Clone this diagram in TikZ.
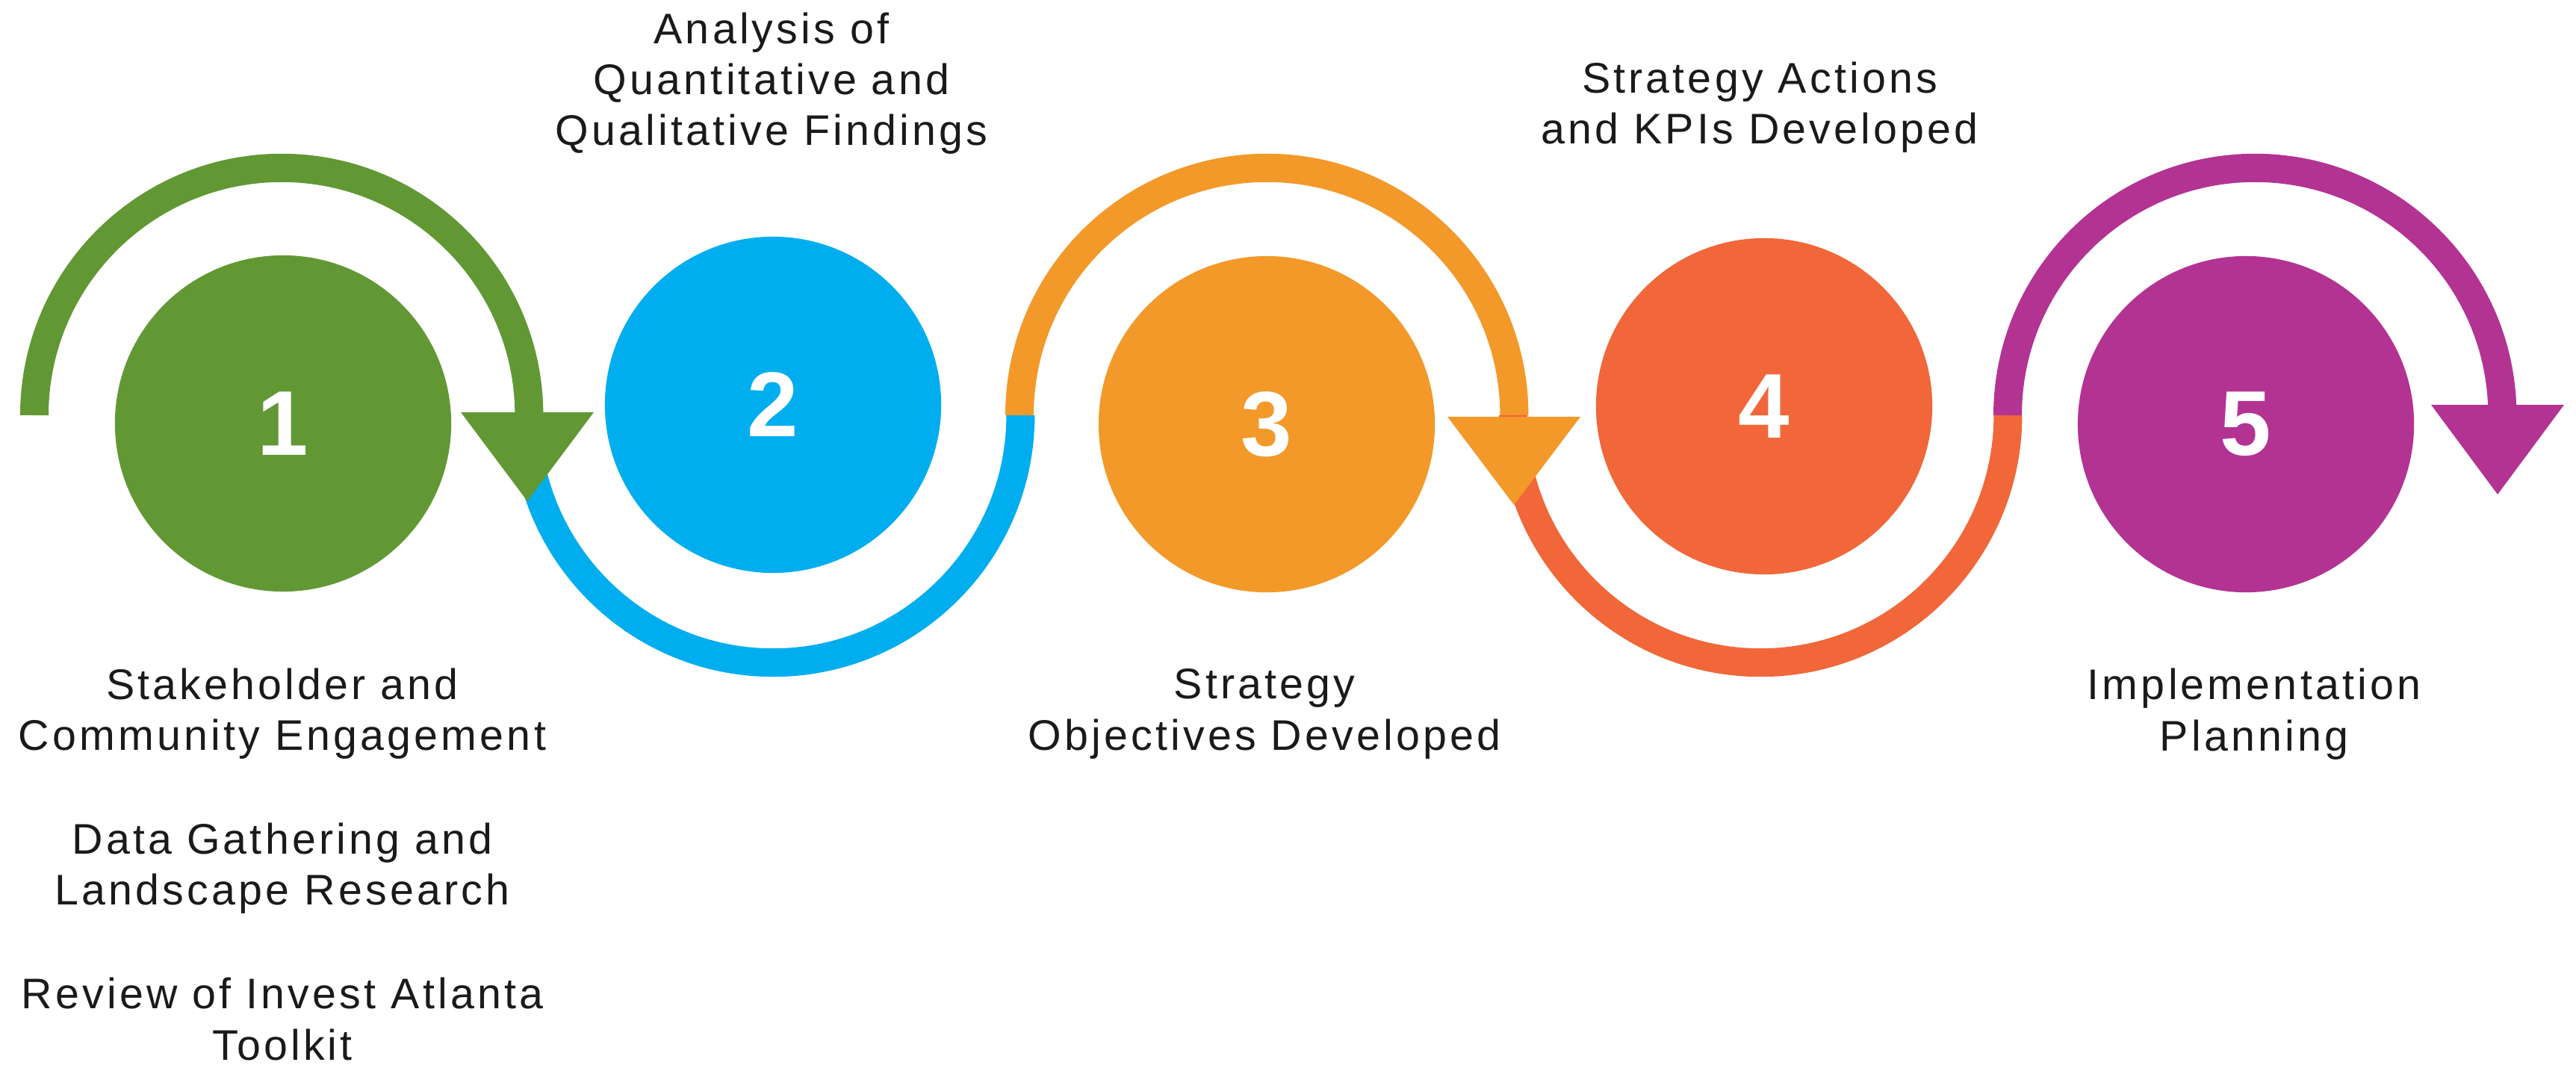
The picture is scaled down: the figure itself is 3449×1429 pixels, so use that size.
\documentclass[tikz,border=0pt]{standalone}
\usepackage{fontspec}
\setmainfont{Liberation Sans}
\newfontfamily\labelfont{Liberation Sans}[LetterSpace=7.3]
\definecolor{cgreen}{HTML}{629834}
\definecolor{cblue}{HTML}{00AEEF}
\definecolor{corange}{HTML}{F3992A}
\definecolor{cred}{HTML}{F1673A}
\definecolor{cpurple}{HTML}{B33393}
\definecolor{ctext}{HTML}{1A1A1A}
\begin{document}
\begin{tikzpicture}[x=0.01cm,y=0.01cm,
  stepcircle/.style={circle, fill=#1, minimum size=4.5cm, inner sep=0pt, text=white,
    font=\bfseries\fontsize{35pt}{40pt}\selectfont},
  ribbon/.style={line width=0.38cm, draw=#1},
  tip/.style={fill=#1, draw=none},
  label/.style={align=center, anchor=base, inner sep=0pt, text=ctext,
    font=\labelfont\fontsize{16.3pt}{19.35pt}\selectfont}]
\fill[white] (0,0) rectangle (3449,1429);
\useasboundingbox (0,0) rectangle (3449,1429);
% ribbons
\draw[ribbon=cgreen]  (46,873)   arc[start angle=180, end angle=0,   radius=3.31cm];
\draw[ribbon=cblue]   (704,873)  arc[start angle=180, end angle=360, radius=3.31cm];
\draw[ribbon=corange] (1365,873) arc[start angle=180, end angle=0,   radius=3.31cm];
\draw[ribbon=cred]    (2026,873) arc[start angle=180, end angle=360, radius=3.31cm];
\draw[ribbon=cpurple] (2688,873) arc[start angle=180, end angle=0,   radius=3.31cm];
% arrow tips
\coordinate (t1a) at (617,877); \coordinate (t1b) at (795,877); \coordinate (t1c) at (706,758);
\coordinate (t3a) at (1938,871); \coordinate (t3b) at (2116,871); \coordinate (t3c) at (2027,753);
\coordinate (t5a) at (3255,887); \coordinate (t5b) at (3433,887); \coordinate (t5c) at (3344,767);
\fill[tip=cgreen]   (t1a) -- (t1b) -- (t1c) -- cycle;
\fill[tip=corange]  (t3a) -- (t3b) -- (t3c) -- cycle;
\fill[tip=cpurple]  (t5a) -- (t5b) -- (t5c) -- cycle;
% circles
\node[stepcircle=cgreen]  (c1) at (379,862)  {1};
\node[stepcircle=cblue]   (c2) at (1035,887) {2};
\node[stepcircle=corange] (c3) at (1696,861) {3};
\node[stepcircle=cred]    (c4) at (2362,885) {4};
\node[stepcircle=cpurple] (c5) at (3007,861) {5};
% labels (base anchor = baseline of the last line)
\node[label] (l1) at (378,10) {Stakeholder and\\Community Engagement\\[0.71cm]Data Gathering and\\Landscape Research\\[0.71cm]Review of Invest Atlanta\\Toolkit};
\node[label] (l2) at (1033,1234) {Analysis of\\Quantitative and\\Qualitative Findings};
\node[label] (l3) at (1693,425) {Strategy\\Objectives Developed};
\node[label] (l4) at (2356,1236) {Strategy Actions\\and KPIs Developed};
\node[label] (l5) at (3018,424) {Implementation\\Planning};
\end{tikzpicture}
\end{document}
